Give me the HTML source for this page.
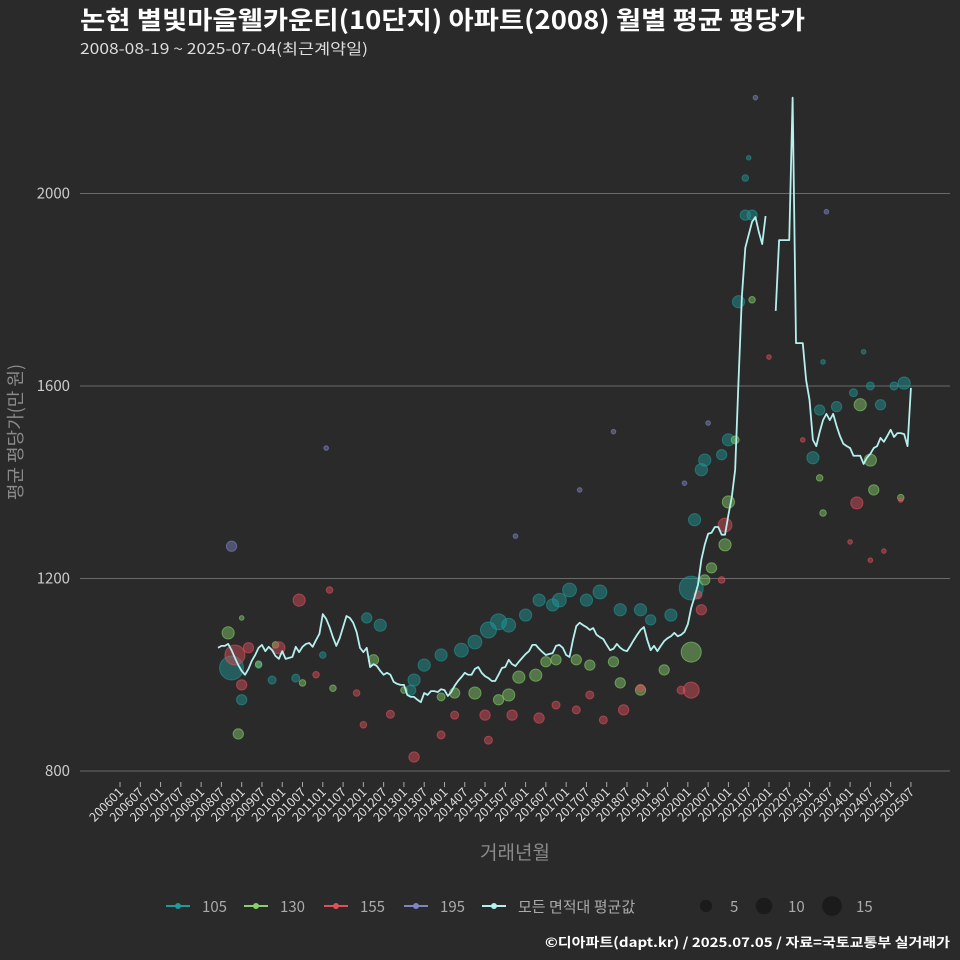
<!DOCTYPE html>
<html><head><meta charset="utf-8">
<style>
html,body{margin:0;padding:0;background:#2b2a2b;}
svg{display:block;font-family:"Noto Sans CJK KR","Liberation Sans",sans-serif;}
</style></head>
<body>
<svg id="chart" width="960" height="960" viewBox="0 0 960 960" xmlns="http://www.w3.org/2000/svg">
<rect width="960" height="960" fill="#2b2a2b"/>
<text x="80" y="29" fill="#ffffff" font-size="25" font-weight="bold" textLength="725" lengthAdjust="spacingAndGlyphs">논현 별빛마을웰카운티(10단지) 아파트(2008) 월별 평균 평당가</text>
<text x="80" y="54" fill="#dddddd" font-size="15" textLength="288" lengthAdjust="spacingAndGlyphs">2008-08-19 ~ 2025-07-04(최근계약일)</text>
<text transform="translate(22,432) rotate(-90)" text-anchor="middle" fill="#8a8a8a" font-size="18">평균 평당가(만 원)</text>
<text x="515" y="859" text-anchor="middle" fill="#8a8a8a" font-size="19">거래년월</text>
<g id="grid"></g><g id="yticks"></g><g id="xticks"></g>
<g id="points"></g><g id="line"></g>
<g id="legend"></g>
<text x="950" y="947" text-anchor="end" fill="#ffffff" font-size="13" font-weight="bold" textLength="405" lengthAdjust="spacingAndGlyphs">©디아파트(dapt.kr) / 2025.07.05 / 자료=국토교통부 실거래가</text>
</svg>
<script>
const yTicks=[800,1200,1600,2000];
const xTickLabels=[];
for(let yr=2006;yr<=2025;yr++){xTickLabels.push(yr+"01");xTickLabels.push(yr+"07");}
const lineStartMonth=29;
const lineValues=[1056,1060,1060,1064,1051,1035,1020,1008,1000,1012,1029,1041,1056,1062,1049,1058,1051,1039,1033,1049,1033,1035,1037,1058,1047,1058,1064,1066,1058,1072,1085,1126,1116,1099,1078,1060,1076,1099,1122,1118,1108,1089,1056,1047,1056,1016,1022,1018,1008,1000,1004,1000,985,981,979,979,958,954,954,948,943,962,958,966,966,964,970,968,956,964,977,987,995,1004,1000,1000,1012,1016,1004,997,993,987,987,1000,1014,1016,1031,1022,1018,1027,1035,1043,1049,1062,1062,1054,1047,1041,1043,1045,1060,1062,1056,1041,1037,1072,1101,1108,1103,1099,1093,1097,1083,1078,1074,1062,1051,1054,1064,1056,1051,1049,1060,1072,1083,1093,1099,1072,1051,1060,1049,1060,1070,1076,1080,1087,1080,1083,1089,1105,1139,1162,1187,1239,1270,1293,1295,1307,1307,1291,1291,1332,1369,1426,1612,1787,1887,1914,1941,1951,1920,1895,1953,null,null,1756,1903,1903,1903,1903,2199,1689,1689,1689,1612,1571,1488,1475,1504,1529,1542,1529,1542,1517,1496,1480,1475,1471,1455,1455,1455,1438,1451,1459,1471,1475,1492,1484,1496,1509,1494,1502,1502,1500,1475,1596];
const s105M=[33,36,52,60,73,77,86,87,90,95,101,105,109,112,115,120,124,128,130,133,138,142,148,154,157,163,169,170,172,173,178,180,183,185,187,185,186,205,207,212,217,222,225,229,232,220,208,45,41];
const s105V=[1014,948,993,1041,1118,1103,968,989,1020,1041,1051,1068,1093,1110,1103,1124,1155,1145,1155,1176,1155,1172,1135,1135,1114,1124,1180,1322,1426,1446,1457,1488,1775,1955,1955,2032,2074,1451,1550,1557,1586,1600,1561,1600,1606,1671,1650,989,1020];
const s105C=[27,5,3,2,5,7,5,7,7,7,9,9,12,12,9,7,7,7,9,9,7,9,7,7,5,7,27,7,7,7,5,7,7,5,5,2,1,7,5,5,3,3,5,3,7,1,1,3,2];
const s130M=[35,32,36,41,46,54,63,75,84,95,99,105,112,115,118,123,126,129,135,139,146,148,154,161,169,173,175,179,180,182,187,219,222,223,207,208,231];
const s130V=[877,1087,1118,1022,1062,983,972,1031,968,954,962,962,948,958,995,999,1027,1031,1031,1020,1027,983,968,1010,1047,1197,1222,1270,1359,1488,1779,1561,1446,1384,1409,1336,1368];
const s130C=[5,7,1,2,2,2,2,5,2,3,5,7,5,7,7,7,5,5,5,5,5,5,5,5,19,5,5,7,7,3,2,7,7,5,2,2,2];
const s155M=[34,36,38,47,53,58,62,70,72,80,87,95,99,108,109,116,124,129,135,139,143,149,154,166,169,172,171,179,178,192,202,218,222,226,231,216];
const s155V=[1041,979,1056,1056,1155,1000,1176,962,896,918,829,875,916,916,864,916,910,937,927,958,906,927,972,968,968,1135,1166,1311,1197,1660,1488,1357,1238,1257,1363,1276];
const s155C=[19,5,5,7,7,2,2,2,2,3,5,3,3,5,3,5,5,3,3,3,3,5,3,3,12,5,3,9,2,1,1,7,1,1,1,1];
const s195M=[33,61,117,136,146,174,188,209,167];
const s195V=[1267,1471,1288,1384,1505,1523,2199,1962,1398];
const s195C=[5,1,1,1,1,1,1,1,1];

const NS="http://www.w3.org/2000/svg";
const X0=120,DX=3.38,PL=80,PR=950;
function xScale(m){return X0+m*DX;}
function yScale(v){return 771-(v-800)*0.4813;}
function rScale(c){return 2.3*Math.sqrt(c);}
function mk(tag,attrs,parent){const e=document.createElementNS(NS,tag);for(const k in attrs)e.setAttribute(k,attrs[k]);parent.appendChild(e);return e;}

const grid=document.getElementById('grid'),yt=document.getElementById('yticks'),xt=document.getElementById('xticks');
yTicks.forEach(v=>{
  const l=mk('line',{x1:PL,x2:PR,y1:yScale(v),y2:yScale(v),stroke:'#6a6a6a','stroke-width':1},grid);
  
  
  const t=mk('text',{x:70,y:yScale(v)+5,'text-anchor':'end',fill:'#cccccc','font-size':15},yt);
  t.textContent=v;
  
  
});
xTickLabels.forEach((lab,i)=>{
  const x=xScale(i*6);
  const tk=mk('line',{x1:x,x2:x,y1:782,y2:787,stroke:'#aaaaaa','stroke-width':1},xt);
  
  
  const t=mk('text',{transform:`translate(${x+4},${793}) rotate(-45)`,'text-anchor':'end',fill:'#dddddd','font-size':12.5},xt);
  t.textContent=lab;
  
  
});

const pts=document.getElementById('points');
const series=[["105",s105M,s105V,s105C,"#1f9a9a"],["130",s130M,s130V,s130C,"#86d16a"],["155",s155M,s155V,s155C,"#e0505a"],["195",s195M,s195V,s195C,"#7d86c4"]];
series.forEach(([name,M,V,C,col])=>{
  M.forEach((m,i)=>{
    const c=mk('circle',{cx:xScale(m),cy:yScale(V[i]),r:rScale(C[i]),fill:col,'fill-opacity':0.45,stroke:col,'stroke-opacity':0.6,'stroke-width':1},pts);
    
    
  });
});

const lg=document.getElementById('line');
let segs=[],cur=[];
lineValues.forEach((v,i)=>{if(v==null){if(cur.length)segs.push(cur);cur=[];}else cur.push([xScale(lineStartMonth+i),yScale(v)]);});
if(cur.length)segs.push(cur);
segs.forEach((s,j)=>{
  const p=mk('polyline',{points:s.map(q=>q.join(',')).join(' '),fill:'none',stroke:'#b4f0ee','stroke-width':1.8,'stroke-linejoin':'round'},lg);
  
  
});

const leg=document.getElementById('legend');
const legItems=[["105","#1f9a9a",166],["130","#86d16a",244],["155","#e0505a",324],["195","#7d86c4",404],["모든 면적대 평균값","#b4f0ee",482]];
legItems.forEach(([lab,col,x])=>{
  const g=mk('g',{},leg);
  
  
  mk('line',{x1:x,x2:x+24,y1:906,y2:906,stroke:col,'stroke-width':2},g);
  mk('circle',{cx:x+12,cy:906,r:3,fill:col},g);
  const t=mk('text',{x:x+36,y:912,fill:'#aaaaaa','font-size':15},g);t.textContent=lab;
});
[[5,706],[10,764],[15,832]].forEach(([n,x])=>{
  const g=mk('g',{},leg);
  
  
  mk('circle',{cx:x,cy:906,r:rScale(n)*1.0+1,fill:'#1c1b1c'},g);
  const t=mk('text',{x:x+24,y:912,fill:'#aaaaaa','font-size':15},g);t.textContent=n;
});
</script>
</body></html>
